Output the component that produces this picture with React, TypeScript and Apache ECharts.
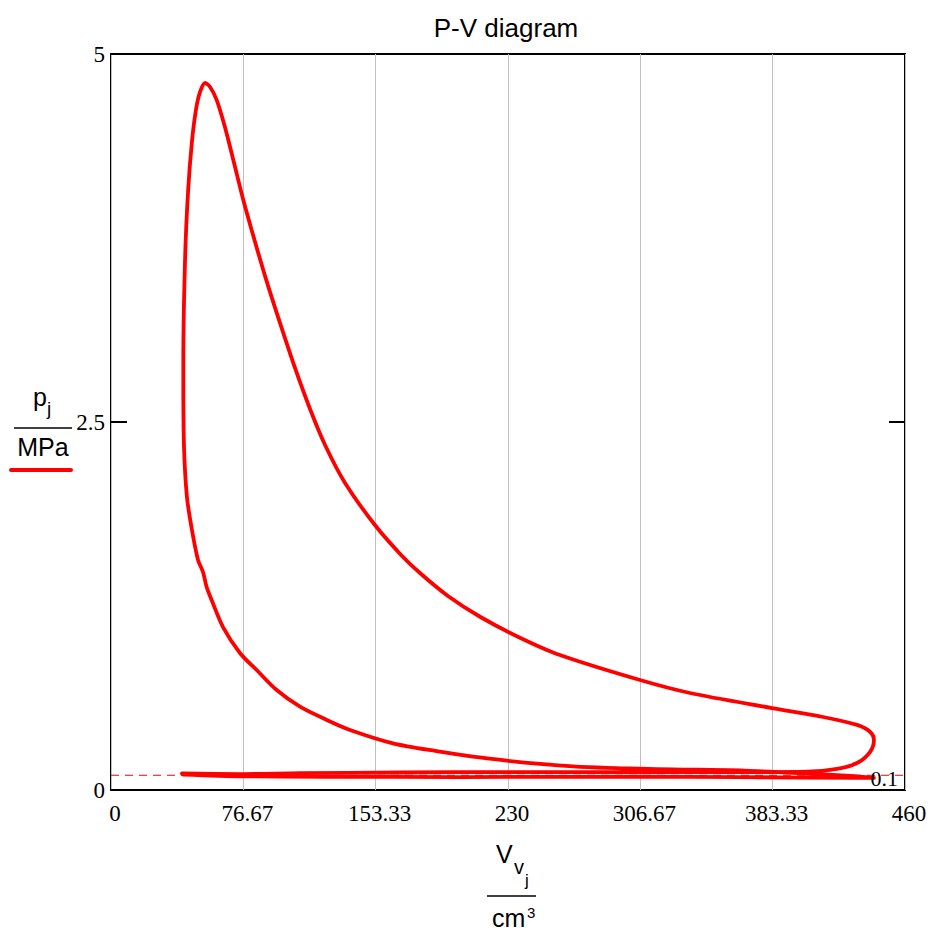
import React, { useEffect, useRef } from "react";
import * as echarts from "echarts";

// ---- axis ticks ----
const X_MAX = 460;
const X_STEP = 460 / 6;
const Y_MAX = 5;
const Y_STEP = 2.5;
const xTickLabels = ["0", "76.67", "153.33", "230", "306.67", "383.33", "460"];
const yTickLabels = ["0", "2.5", "5"];
const atmPressure = 0.1; // MPa reference line
const atmLabel = "0.1";

// ---- cycle data: V [cm^3], p [MPa] ----
const intakeV = [41.7, 76.5, 124.6, 202.2, 306.5, 364.4, 433.9, 442.0];
const intakeP = [0.105, 0.093, 0.09, 0.088, 0.09, 0.088, 0.082, 0.082];

const compressionV = [428.1, 403.2, 364.4, 325.6, 306.5, 287.4, 267.7, 248.5, 229.4, 209.7, 190.6, 163.4, 138.5, 125.0, 109.5, 96.0, 84.4, 74.7, 64.9, 58.3, 55.4, 53.3, 50.4, 46.9, 44.0, 42.3, 41.9];
const compressionP = [0.095, 0.112, 0.133, 0.14, 0.145, 0.15, 0.16, 0.177, 0.199, 0.226, 0.26, 0.317, 0.408, 0.476, 0.566, 0.679, 0.815, 0.931, 1.107, 1.291, 1.379, 1.481, 1.563, 1.766, 1.99, 2.33, 2.785];

const combustionV = [41.9, 42.9, 44.6, 46.8, 49.2, 51.6, 54.5, 57.4, 61.2, 66.0, 71.3];
const combustionP = [2.921, 3.601, 4.056, 4.395, 4.62, 4.742, 4.803, 4.776, 4.688, 4.504, 4.259];

const expansionV = [76.5, 82.8, 89.8, 97.9, 106.6, 115.3, 124.0, 135.6, 152.9, 168.2, 179.0, 195.0, 213.8, 236.0, 260.1, 306.5, 335.4, 382.9, 412.5, 432.2, 439.7];
const expansionP = [4.015, 3.75, 3.471, 3.173, 2.867, 2.588, 2.344, 2.086, 1.8, 1.595, 1.474, 1.32, 1.177, 1.04, 0.917, 0.747, 0.659, 0.557, 0.496, 0.442, 0.396];

const blowdownV = [442.0, 439.7, 432.2, 420.6, 403.2];
const blowdownP = [0.34, 0.258, 0.183, 0.143, 0.124];

const exhaustV = [364.4, 306.5, 229.4, 167.4, 109.5, 74.7, 41.1];
const exhaustP = [0.121, 0.121, 0.122, 0.119, 0.114, 0.108, 0.112];

const phases: [number[], number[]][] = [
  [intakeV, intakeP],
  [compressionV, compressionP],
  [combustionV, combustionP],
  [expansionV, expansionP],
  [blowdownV, blowdownP],
  [exhaustV, exhaustP],
];

const RED = "#ff0000";
const SANS = '"Liberation Sans", Arial, sans-serif';
const SERIF = '"Liberation Serif", "Times New Roman", serif';

export default function App() {
  const ref = useRef<HTMLDivElement>(null);

  useEffect(() => {
    if (!ref.current) return;
    const chart = echarts.init(ref.current, null, { renderer: "svg" });

    const cycle: number[][] = [];
    phases.forEach(([vs, ps]) => vs.forEach((v, i) => cycle.push([v, ps[i]])));

    chart.setOption({
      animation: false,
      backgroundColor: "#ffffff",
      title: {
        text: "P-V diagram",
        left: 501,
        top: 10,
        textAlign: "center",
        textStyle: { fontFamily: SANS, fontSize: 26, fontWeight: "normal", color: "#000" },
      },
      grid: {
        left: 111,
        right: 26,
        top: 54,
        bottom: 148,
        show: true,
        borderColor: "#000",
        borderWidth: 2,
        backgroundColor: "transparent",
      },
      xAxis: {
        type: "value",
        min: 0,
        max: X_MAX,
        interval: X_STEP,
        axisLine: { show: false },
        axisTick: { show: false },
        splitLine: { show: true, lineStyle: { color: "#c0c0c0", width: 1 } },
        axisLabel: {
          margin: 12,
          fontFamily: SERIF,
          fontSize: 23,
          color: "#000",
          padding: [0, 0, 0, 8],
          formatter: (v: number) => xTickLabels[Math.round(v / X_STEP)] ?? "",
        },
      },
      yAxis: [
        {
          type: "value",
          min: 0,
          max: Y_MAX,
          interval: Y_STEP,
          axisLine: { show: false },
          axisTick: { show: true, inside: true, length: 16, lineStyle: { color: "#000", width: 2 } },
          splitLine: { show: false },
          axisLabel: {
            margin: 6,
            fontFamily: SERIF,
            fontSize: 23,
            color: "#000",
            padding: [8, 0, 0, 0],
            formatter: (v: number) => yTickLabels[Math.round(v / Y_STEP)] ?? "",
          },
        },
        {
          type: "value",
          position: "right",
          min: 0,
          max: Y_MAX,
          interval: Y_STEP,
          axisLine: { show: false },
          axisTick: { show: true, inside: true, length: 16, lineStyle: { color: "#000", width: 2 } },
          splitLine: { show: false },
          axisLabel: { show: false },
        },
      ],
      series: [
        {
          type: "line",
          data: [
            [0, atmPressure],
            [X_MAX, atmPressure],
          ],
          showSymbol: false,
          lineStyle: { color: RED, width: 1, type: [8, 6] },
          silent: true,
          z: 1,
        },
        {
          type: "line",
          data: cycle,
          showSymbol: false,
          smooth: 0.3,
          lineStyle: { color: RED, width: 3.8, cap: "round", join: "round" },
          z: 2,
        },
      ],
    });

    const [ax, ay] = chart.convertToPixel({ gridIndex: 0 }, [X_MAX, atmPressure]);

    chart.setOption({
      graphic: [
        // 0.1 label at the end of the reference line
        {
          type: "text",
          x: ax - 7,
          y: ay + 3,
          z: 10,
          style: { text: atmLabel, font: `22px ${SERIF}`, fill: "#000", align: "right", verticalAlign: "middle" },
        },
        // Y axis name: p_j / MPa
        { type: "text", x: 33, y: 397, style: { text: "p", font: `25px ${SANS}`, fill: "#000", align: "left", verticalAlign: "middle" } },
        { type: "text", x: 47, y: 408, style: { text: "j", font: `19px ${SANS}`, fill: "#000", align: "left", verticalAlign: "middle" } },
        { type: "line", shape: { x1: 14, y1: 428, x2: 72, y2: 428 }, style: { stroke: "#000", lineWidth: 1.5 } },
        { type: "text", x: 43, y: 447, style: { text: "MPa", font: `25px ${SANS}`, fill: "#000", align: "center", verticalAlign: "middle" } },
        { type: "line", shape: { x1: 11, y1: 470, x2: 71, y2: 470 }, style: { stroke: RED, lineWidth: 4, lineCap: "round" } },
        // X axis name: V_{v_j} / cm^3
        { type: "text", x: 496, y: 854, style: { text: "V", font: `25px ${SANS}`, fill: "#000", align: "left", verticalAlign: "middle" } },
        { type: "text", x: 514, y: 867, style: { text: "v", font: `20px ${SANS}`, fill: "#000", align: "left", verticalAlign: "middle" } },
        { type: "text", x: 525, y: 880, style: { text: "j", font: `17px ${SANS}`, fill: "#000", align: "left", verticalAlign: "middle" } },
        { type: "line", shape: { x1: 487, y1: 896, x2: 536, y2: 896 }, style: { stroke: "#000", lineWidth: 1.5 } },
        { type: "text", x: 492, y: 918, style: { text: "cm", font: `25px ${SANS}`, fill: "#000", align: "left", verticalAlign: "middle" } },
        { type: "text", x: 527, y: 912, style: { text: "3", font: `15px ${SANS}`, fill: "#000", align: "left", verticalAlign: "middle" } },
      ],
    });

    return () => chart.dispose();
  }, []);

  return (
    <div
      ref={ref}
      style={{ position: "fixed", left: 0, top: 0, width: 931, height: 938, background: "#fff" }}
    />
  );
}
